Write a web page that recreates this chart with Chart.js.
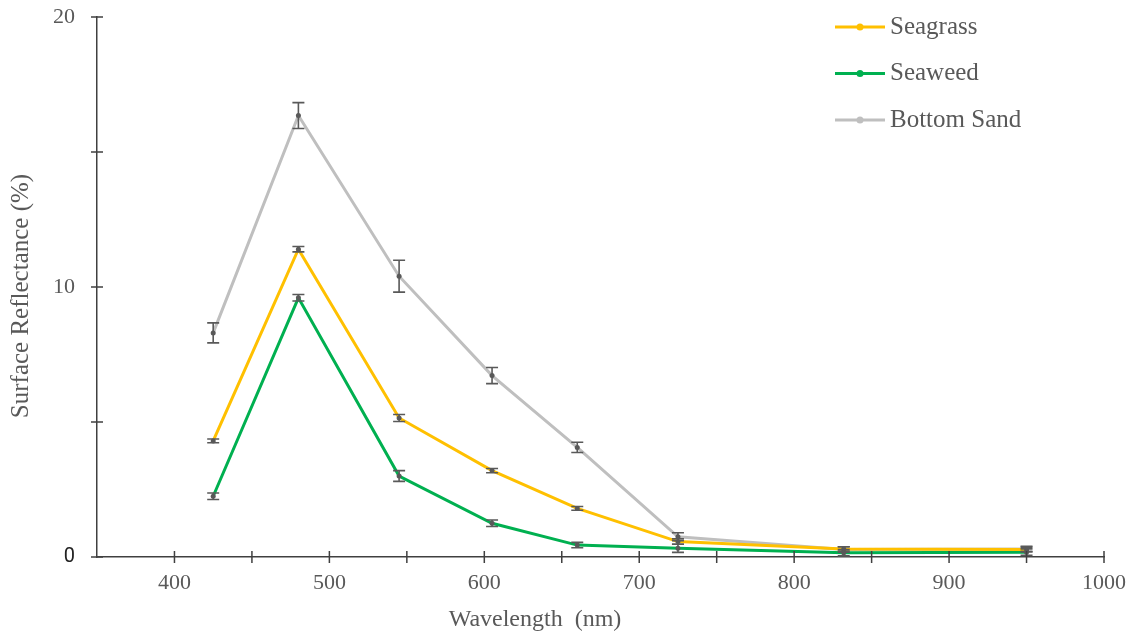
<!DOCTYPE html>
<html>
<head>
<meta charset="utf-8">
<script src="https://cdn.jsdelivr.net/npm/chart.js@4/dist/chart.umd.min.js"></script>
<style>
    html, body {margin: 0; padding: 0; background: #fff;}
    #wrap {width: 1134px; height: 636px;}
</style>
</head>
<body>
<div id="wrap"><canvas id="specChart" width="1134" height="636"></canvas></div>
<script>
// wavelengths (nm)
const wavelengths = [425, 480, 545, 605, 660, 725, 832, 950];

// surface reflectance (%)
const seagrass = [4.3, 11.4, 5.15, 3.2, 1.8, 0.57, 0.3, 0.28];
const seaweed = [2.25, 9.6, 3.0, 1.25, 0.44, 0.32, 0.16, 0.18];
const bottomSand = [8.3, 16.35, 10.4, 6.72, 4.06, 0.75, 0.28, 0.3];

// error bars (+/-)
const seagrassErr = [0.07, 0.1, 0.13, 0.08, 0.07, 0.1, 0.08, 0.08];
const seaweedErr = [0.12, 0.12, 0.2, 0.12, 0.1, 0.15, 0.12, 0.12];
const bottomSandErr = [0.37, 0.48, 0.59, 0.3, 0.19, 0.15, 0.1, 0.1];

const seriesNames = ['Seagrass', 'Seaweed', 'Bottom Sand'];
const seriesColors = ['#FFC000', '#00B050', '#BFBFBF'];

const xTicks = [400, 500, 600, 700, 800, 900, 1000];
const yTicks = [0, 10, 20];

const axisColor = '#404040';
const textColor = '#595959';
const serif = "'Liberation Serif', 'DejaVu Serif', serif";

function toPoints(values) {
    return wavelengths.map((w, i) => ({x: w, y: values[i]}));
}

// error bars, crossing tick marks, legend, axis titles
const extrasPlugin = {
    id: 'extras',
    afterDatasetsDraw(chart) {
        const ctx = chart.ctx;
        const xs = chart.scales.x;
        const ys = chart.scales.y;
        const errs = [seagrassErr, seaweedErr, bottomSandErr];

        ctx.save();
        ctx.strokeStyle = textColor;
        ctx.lineWidth = 1.6;
        chart.data.datasets.forEach((ds, d) => {
            ds.data.forEach((p, i) => {
                const px = xs.getPixelForValue(p.x);
                const top = ys.getPixelForValue(p.y + errs[d][i]);
                const bot = ys.getPixelForValue(p.y - errs[d][i]);
                ctx.beginPath();
                ctx.moveTo(px, top); ctx.lineTo(px, bot);
                ctx.moveTo(px - 6, top); ctx.lineTo(px + 6, top);
                ctx.moveTo(px - 6, bot); ctx.lineTo(px + 6, bot);
                ctx.stroke();
            });
        });
        ctx.restore();
    },
    afterDraw(chart) {
        const ctx = chart.ctx;
        const xs = chart.scales.x;
        const ys = chart.scales.y;
        const area = chart.chartArea;

        ctx.save();
        // tick marks across the axes
        ctx.strokeStyle = axisColor;
        ctx.lineWidth = 1.5;
        ctx.beginPath();
        xs.ticks.forEach(t => {
            if (t.value <= xs.min) return;
            const px = xs.getPixelForValue(t.value);
            ctx.moveTo(px, area.bottom - 6);
            ctx.lineTo(px, area.bottom + 6);
        });
        ys.ticks.forEach(t => {
            const py = ys.getPixelForValue(t.value);
            ctx.moveTo(area.left - 6, py);
            ctx.lineTo(area.left + 6, py);
        });
        ctx.stroke();

        // legend
        ctx.font = '25px ' + serif;
        ctx.textBaseline = 'middle';
        ctx.textAlign = 'left';
        seriesNames.forEach((name, i) => {
            const y = 27 + i * 46.5;
            ctx.strokeStyle = seriesColors[i];
            ctx.lineWidth = 3;
            ctx.beginPath();
            ctx.moveTo(835, y); ctx.lineTo(885, y);
            ctx.stroke();
            ctx.fillStyle = seriesColors[i];
            ctx.beginPath();
            ctx.arc(860, y, 3.5, 0, Math.PI * 2);
            ctx.fill();
            ctx.fillStyle = textColor;
            ctx.fillText(name, 890, y);
        });

        // axis titles
        ctx.fillStyle = textColor;
        ctx.textAlign = 'center';
        ctx.font = '24px ' + serif;
        ctx.fillText('Wavelength  (nm)', 535, 620);

        ctx.font = '25px ' + serif;
        ctx.translate(21, 296);
        ctx.rotate(-Math.PI / 2);
        ctx.fillText('Surface Reflectance (%)', 0, 0);
        ctx.restore();
    }
};

const ctx = document.getElementById('specChart').getContext('2d');
const specChart = new Chart(ctx, {
    type: 'line',
    data: {
        datasets: seriesNames.map((name, i) => ({
            label: name,
            data: toPoints([seagrass, seaweed, bottomSand][i]),
            borderColor: seriesColors[i],
            borderWidth: 3,
            pointRadius: 2.5,
            pointBackgroundColor: '#595959',
            pointBorderWidth: 0,
            tension: 0,
            fill: false
        }))
    },
    options: {
        responsive: false,
        animation: false,
        layout: {padding: {top: 17, right: 30, left: 0, bottom: 0}},
        plugins: {
            legend: {display: false},
            tooltip: {enabled: false}
        },
        scales: {
            x: {
                type: 'linear',
                min: 350,
                max: 1000,
                afterFit: s => { s.height = 79; s.paddingLeft = 0; s.paddingRight = 0; },
                grid: {display: false},
                border: {display: true, color: axisColor, width: 1.5},
                ticks: {
                    stepSize: 50,
                    autoSkip: false,
                    maxRotation: 0,
                    padding: 5,
                    color: textColor,
                    font: {family: serif, size: 22},
                    callback: v => xTicks.includes(v) ? v : ''
                }
            },
            y: {
                min: 0,
                max: 20,
                afterFit: s => { s.width = 97; s.paddingTop = 0; s.paddingBottom = 0; },
                grid: {display: false},
                border: {display: true, color: axisColor, width: 1.5},
                ticks: {
                    stepSize: 5,
                    autoSkip: false,
                    padding: 14,
                    color: c => c.tick && c.tick.value === 0 ? '#222' : textColor,
                    font: c => c.tick && c.tick.value === 0
                        ? {family: 'Roboto, sans-serif', size: 20}
                        : {family: serif, size: 22},
                    callback: v => yTicks.includes(v) ? v : ''
                }
            }
        }
    },
    plugins: [extrasPlugin]
});
</script>
</body>
</html>
